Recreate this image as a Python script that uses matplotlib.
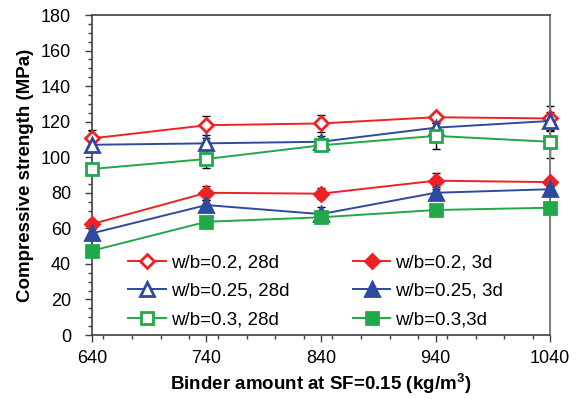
import matplotlib
matplotlib.use("Agg")
import matplotlib.pyplot as plt
from matplotlib.ticker import MultipleLocator

plt.rcParams['font.family'] = ['Liberation Sans', 'DejaVu Sans']

binder = [640, 740, 840, 940, 1040]

s02_28 = [110.6, 118.0, 119.0, 122.5, 121.8]
s025_28 = [107.0, 107.8, 108.7, 116.6, 120.4]
s03_28 = [93.4, 99.0, 106.7, 112.0, 108.7]
s02_3 = [62.4, 80.0, 79.5, 86.8, 86.0]
s025_3 = [57.2, 73.1, 68.0, 80.0, 82.0]
s03_3 = [47.4, 63.7, 66.2, 70.3, 71.6]

e02_28 = [4.5, 5.3, 5.0, 2.0, 7.0]
e025_28 = [3.0, 3.0, 3.5, 2.5, 5.0]
e03_28 = [3.0, 5.0, 2.5, 7.4, 9.3]
e02_3 = [2.0, 3.8, 3.0, 4.5, 2.5]
e025_3 = [2.5, 3.0, 4.0, 3.0, 2.5]
e03_3 = [2.0, 2.0, 2.0, 2.0, 2.0]

labels = ["w/b=0.2, 28d", "w/b=0.25, 28d", "w/b=0.3, 28d",
          "w/b=0.2, 3d", "w/b=0.25, 3d", "w/b=0.3,3d"]

RED = "#EE2224"
BLUE = "#2E4A9E"
GREEN = "#21A84A"

fig = plt.figure(figsize=(5.8, 3.99), dpi=100)
ax = fig.add_axes([0.1586, 0.1604, 0.7897, 0.802])

series = [
    (s02_28, e02_28, RED, 'D', 'white', 7.5),
    (s025_28, e025_28, BLUE, '^', 'white', 10),
    (s03_28, e03_28, GREEN, 's', 'white', 9),
    (s02_3, e02_3, RED, 'D', RED, 7.5),
    (s025_3, e025_3, BLUE, '^', BLUE, 10),
    (s03_3, e03_3, GREEN, 's', GREEN, 9),
]

handles = []
for (vals, errs, col, mk, fc, ms), lab in zip(series, labels):
    ax.errorbar(binder, vals, yerr=errs, fmt='none', ecolor='black',
                elinewidth=1, capsize=3, capthick=1, zorder=2, clip_on=False)
    h, = ax.plot(binder, vals, color=col, lw=1.4, marker=mk, ms=ms,
                 mfc=fc, mec=col, mew=2, label=lab, zorder=3, clip_on=False)
    handles.append(h)

ax.set_xlim(640, 1040)
ax.set_ylim(0, 180)
ax.set_xticks(binder)
ax.xaxis.set_minor_locator(MultipleLocator(25))
ax.yaxis.set_major_locator(MultipleLocator(20))
ax.yaxis.set_minor_locator(MultipleLocator(5))
ax.tick_params(axis='both', which='major', direction='out', length=5,
               width=1, color='#404040', labelsize=13)
ax.tick_params(axis='both', which='minor', direction='out', length=3,
               width=1, color='#404040')
ax.tick_params(axis='y', which='major', pad=10)
ax.tick_params(axis='x', which='major', pad=5.5)

for sp in ['left', 'bottom', 'top']:
    ax.spines[sp].set_color('#404040')
    ax.spines[sp].set_linewidth(1.2)
ax.spines['right'].set_color('#808080')
ax.spines['right'].set_linewidth(1.5)

ax.set_xlabel("Binder amount at SF=0.15 (kg/m$^\\mathregular{3}$)",
              fontsize=13.5, fontweight='bold', labelpad=3)
ax.set_ylabel("Compressive strength (MPa)", fontsize=13.5,
              fontweight='bold', labelpad=5)

fig.legend(handles=handles, ncol=2, loc='upper left',
           bbox_to_anchor=(0.2207, 0.3635), frameon=False, fontsize=13.5,
           handlelength=2.0, columnspacing=3.4, labelspacing=0.61,
           handletextpad=0.27, borderpad=0, borderaxespad=0)

fig.savefig("out.png", dpi=100)
